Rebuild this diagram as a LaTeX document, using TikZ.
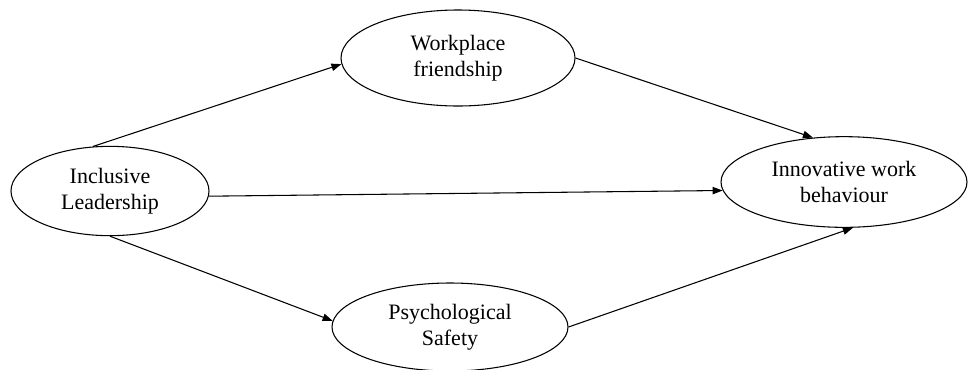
\documentclass[tikz,border=0pt]{standalone}
\usepackage{fontspec}
\setmainfont{Liberation Serif}
\usetikzlibrary{shapes.geometric,arrows.meta}
\begin{document}
\begin{tikzpicture}[x=0.75pt,y=-0.75pt,
  construct/.style={ellipse, draw, line width=0.8pt, inner sep=0pt,
    align=center, font=\fontsize{16.5}{19.5}\selectfont},
  path/.style={draw, line width=0.8pt, -{Triangle[length=7.5pt,width=5.5pt]}}]
  \useasboundingbox (0,0) rectangle (969,369);

  % latent constructs
  \node[construct, minimum width=148.5pt, minimum height=67pt] (incl) at (110,191)
    {Inclusive\\Leadership};
  \node[construct, minimum width=175.5pt, minimum height=72pt] (wp) at (458,58)
    {Workplace\\friendship};
  \node[construct, minimum width=177pt, minimum height=66pt] (psy) at (450,327)
    {Psychological\\Safety};
  \node[construct, minimum width=184.5pt, minimum height=68pt] (iwb) at (844,182)
    {Innovative work\\behaviour};

  % hypothesised paths
  \draw[path] (incl.111) -- (wp.183);
  \draw[path] (incl.-3) -- (iwb.184);
  \draw[path] (incl.south) -- (psy.177);
  \draw[path] (wp.east) -- (iwb.125);
  \draw[path] (psy.east) -- (iwb.-79);
\end{tikzpicture}
\end{document}
